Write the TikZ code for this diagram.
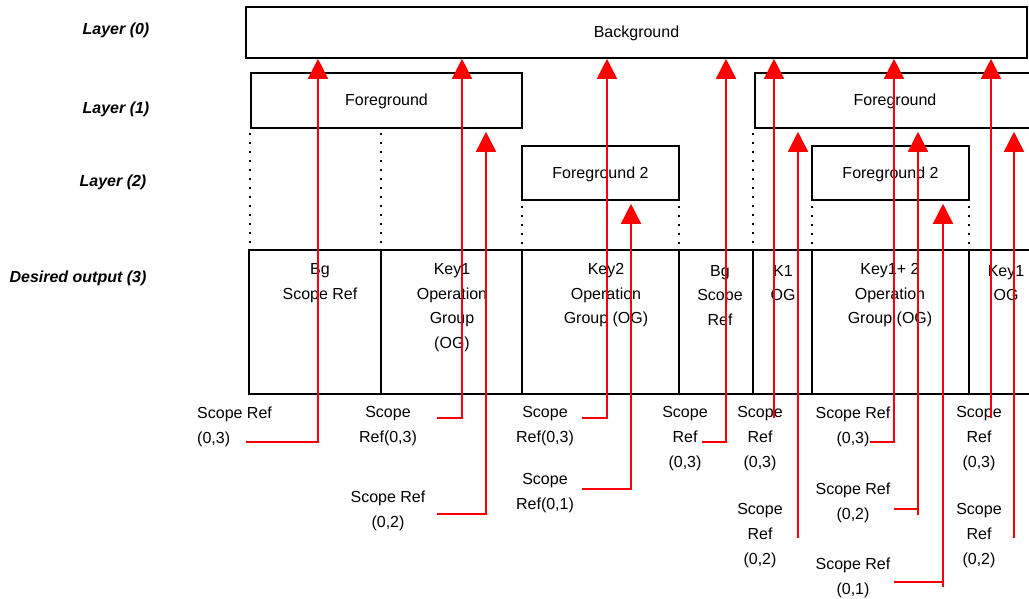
\documentclass[tikz,border=0pt]{standalone}
\usepackage{fontspec}
\setmainfont{Liberation Sans}
\usetikzlibrary{arrows.meta}
\begin{document}
\begin{tikzpicture}[x=1pt,y=-1pt,
  box/.style={draw,line width=1.6pt,rectangle,inner sep=0pt,text height=11pt,text depth=0pt,font=\fontsize{16}{24.5}\selectfont},
  cell/.style={draw,line width=1.6pt,rectangle,inner sep=0pt,minimum height=144pt},
  celltext/.style={align=center,inner sep=0pt,font=\fontsize{16}{24.5}\selectfont},
  reftext/.style={align=center,inner sep=0pt,font=\fontsize{16}{25}\selectfont},
  layer/.style={inner sep=0pt,font=\fontsize{16}{19}\selectfont\bfseries\itshape},
  ref/.style={draw=red,line width=1.6pt,-{Triangle[width=20pt,length=20pt]}},
  gap/.style={shorten >=3pt},
  dots/.style={line width=1.8pt,dash pattern=on 1.8pt off 7.2pt}
]
\useasboundingbox[fill=white] (0,0) rectangle (1029,599);

% layer labels
\node[layer] (l0) at (116,30) {Layer (0)};
\node[layer] (l1) at (116,109) {Layer (1)};
\node[layer] (l2) at (113,182) {Layer (2)};
\node[layer] (l3) at (78,278) {Desired output (3)};

% layer boxes
\node[box,minimum width=781pt,minimum height=51pt] (bg) at (636.5,32.5) {Background};
\node[box,minimum width=271pt,minimum height=55pt] (fgL) at (386.5,100.5) {Foreground};
\node[box,minimum width=280pt,minimum height=55pt] (fgR) at (895,100.5) {Foreground};
\node[box,minimum width=157pt,minimum height=54pt] (fgtL) at (600.5,173) {Foreground 2};
\node[box,minimum width=157pt,minimum height=54pt] (fgtR) at (890.5,173) {Foreground 2};

% dotted guides
\draw[dots] (250,133) -- (250,248);
\draw[dots] (381,133) -- (381,248);
\draw[dots] (522,206) -- (522,248);
\draw[dots] (679,206) -- (679,248);
\draw[dots] (753,133) -- (753,248);
\draw[dots] (812,206) -- (812,248);
\draw[dots] (969,206) -- (969,248);

% output cells
\node[cell,minimum width=132pt] (c1) at (315,322) {};
\node[cell,minimum width=141pt] (c2) at (451.5,322) {};
\node[cell,minimum width=157pt] (c3) at (600.5,322) {};
\node[cell,minimum width=74pt] (c4) at (716,322) {};
\node[cell,minimum width=59pt] (c5) at (782.5,322) {};
\node[cell,minimum width=157pt] (c6) at (890.5,322) {};
\node[cell,minimum width=80pt] (c7) at (1009,322) {};

\node[celltext] (t1) at (320,283) {Bg\\Scope Ref};
\node[celltext] (t2) at (452,307.5) {Key1\\Operation\\Group\\(OG)};
\node[celltext] (t3) at (606,295.5) {Key2\\Operation\\Group (OG)};
\node[celltext] (t4) at (720,295.5) {Bg\\Scope\\Ref};
\node[celltext] (t5) at (783,283) {K1\\OG};
\node[celltext] (t6) at (890,295.5) {Key1+ 2\\Operation\\Group (OG)};
\node[celltext] (t7) at (1006,283) {Key1\\OG};

% reference labels
\node[reftext,align=left,anchor=west] (r1) at (197,426.5) {Scope Ref\\(0,3)};
\node[reftext] (r2) at (388,426.5) {Scope\\Ref(0,3)};
\node[reftext] (r3) at (388,510.5) {Scope Ref\\(0,2)};
\node[reftext] (r4) at (545,426.5) {Scope\\Ref(0,3)};
\node[reftext] (r5) at (545,493.5) {Scope\\Ref(0,1)};
\node[reftext] (r6) at (685,439) {Scope\\Ref\\(0,3)};
\node[reftext] (r7) at (760,439) {Scope\\Ref\\(0,3)};
\node[reftext] (r8) at (760,535.5) {Scope\\Ref\\(0,2)};
\node[reftext] (r9) at (853,426.5) {Scope Ref\\(0,3)};
\node[reftext] (r10) at (853,503) {Scope Ref\\(0,2)};
\node[reftext] (r11) at (853,578) {Scope Ref\\(0,1)};
\node[reftext] (r12) at (979,439) {Scope\\Ref\\(0,3)};
\node[reftext] (r13) at (979,535.5) {Scope\\Ref\\(0,2)};

% connector coordinates
\coordinate (a1s) at (246,442);  \coordinate (a1c) at (318,442);
\coordinate (a2s) at (437,418);  \coordinate (a2c) at (462,418);
\coordinate (a3s) at (437,514);  \coordinate (a3c) at (486,514);
\coordinate (a4s) at (582,418);  \coordinate (a4c) at (607,418);
\coordinate (a5s) at (582,489);  \coordinate (a5c) at (631,489);
\coordinate (a6s) at (702,442);  \coordinate (a6c) at (726,442);
\coordinate (a7s) at (774,418);
\coordinate (a8s) at (798,538);
\coordinate (a9s) at (870,442);  \coordinate (a9c) at (894,442);
\coordinate (a10s) at (894,509); \coordinate (a10c) at (918,509); \coordinate (a10b) at (918,515);
\coordinate (a11s) at (894,582); \coordinate (a11c) at (943,582); \coordinate (a11b) at (943,587);
\coordinate (a12s) at (991,418);
\coordinate (a13s) at (1014,538);

% red reference arrows
\draw[ref] (a1s) -- (a1c) -- (a1c |- bg.south);
\draw[ref] (a2s) -- (a2c) -- (a2c |- bg.south);
\draw[ref,gap] (a3s) -- (a3c) -- (a3c |- fgL.south);
\draw[ref] (a4s) -- (a4c) -- (a4c |- bg.south);
\draw[ref,gap] (a5s) -- (a5c) -- (a5c |- fgtL.south);
\draw[ref] (a6s) -- (a6c) -- (a6c |- bg.south);
\draw[ref] (a7s) -- (a7s |- bg.south);
\draw[ref,gap] (a8s) -- (a8s |- fgR.south);
\draw[ref] (a9s) -- (a9c) -- (a9c |- bg.south);
\draw[ref,gap] (a10s) -- (a10c) (a10b) -- (a10b |- fgR.south);
\draw[ref,gap] (a11s) -- (a11c) (a11b) -- (a11b |- fgtR.south);
\draw[ref] (a12s) -- (a12s |- bg.south);
\draw[ref,gap] (a13s) -- (a13s |- fgR.south);
\end{tikzpicture}
\end{document}
